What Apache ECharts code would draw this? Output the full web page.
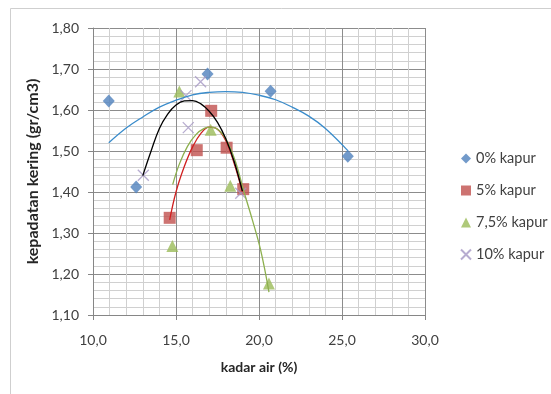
<!DOCTYPE html>
<html>
<head>
<meta charset="utf-8">
<script src="https://cdn.jsdelivr.net/npm/echarts@6/dist/echarts.min.js"></script>
<style>
html,body{margin:0;padding:0;background:#fff;}
#c{width:551px;height:394px;}
</style>
</head>
<body>
<div id="c"></div>
<script>
// Series names
const seriesNames = ['0% kapur', '5% kapur', '7,5% kapur', '10% kapur'];

// Measured points (kadar air %, kepadatan kering)
const x0 = [10.95, 12.6, 16.9, 20.7, 25.35];
const y0 = [1.622, 1.412, 1.688, 1.646, 1.487];
const x5 = [14.62, 16.25, 17.12, 18.05, 19.05];
const y5 = [1.337, 1.502, 1.598, 1.508, 1.407];
const x75 = [14.78, 15.2, 17.09, 18.27, 20.6];
const y75 = [1.268, 1.645, 1.552, 1.415, 1.177];
const x10 = [13.03, 15.6, 15.74, 16.48, 18.9];
const y10 = [1.441, 1.635, 1.557, 1.669, 1.397];

// Trendlines
const t0x = [10.95, 12, 13, 14, 15, 16, 17, 18, 19, 20, 21, 22, 23, 24, 25.35];
const t0y = [1.520, 1.556, 1.583, 1.607, 1.624, 1.637, 1.643, 1.645, 1.643, 1.636, 1.625, 1.607, 1.585, 1.555, 1.501];
const t5x = [14.62, 15.0, 15.5, 16.0, 16.5, 17.0, 17.5, 18.0, 18.5, 19.0];
const t5y = [1.332, 1.400, 1.462, 1.510, 1.543, 1.558, 1.553, 1.525, 1.470, 1.400];
const t75x = [14.8, 15.2, 15.7, 16.2, 16.7, 17.1, 17.6, 18.1, 18.6, 19.1, 19.6, 20.1, 20.6];
const t75y = [1.418, 1.468, 1.512, 1.540, 1.555, 1.558, 1.550, 1.522, 1.472, 1.400, 1.332, 1.258, 1.156];
const t10x = [13.0, 13.5, 14.0, 14.5, 15.0, 15.5, 16.0, 16.5, 17.0, 17.5, 18.0, 18.5, 19.0];
const t10y = [1.440, 1.500, 1.555, 1.590, 1.612, 1.622, 1.623, 1.615, 1.597, 1.570, 1.530, 1.475, 1.402];

// Axis ticks
const xMin = 10, xMax = 30, xStep = 5;
const yMin = 1.1, yMax = 1.8, yStep = 0.1;

const colors = ['#4F81BD', '#C0504D', '#9BBB59', '#A597C4'];
const trendColors = ['#3A8CCB', '#D02020', '#8DB04E', '#000000'];
const crossPath = 'path://M0,0L10,10M10,0L0,10';

const zip = (a, b) => a.map((v, i) => [v, b[i]]);
const font = 'Lato, "Open Sans", sans-serif';

const chart = echarts.init(document.getElementById('c'), null, {renderer: 'canvas'});

const pts = [[x0, y0], [x5, y5], [x75, y75], [x10, y10]];
const trends = [[t0x, t0y], [t5x, t5y], [t75x, t75y], [t10x, t10y]];
const symbols = ['diamond', 'rect', 'triangle', crossPath];
const sizes = [[12, 13], 12, [12, 12], 11];

const series = [];
pts.forEach((p, i) => {
  const isCross = i === 3;
  series.push({
    name: seriesNames[i],
    type: 'scatter',
    data: zip(p[0], p[1]),
    symbol: symbols[i],
    symbolSize: sizes[i],
    z: 2,
    itemStyle: isCross
      ? {color: 'rgba(0,0,0,0)', borderColor: colors[i], borderWidth: 1.3}
      : {color: colors[i]}
  });
});
trends.forEach((t, i) => {
  series.push({
    name: 'trend' + i,
    type: 'line',
    data: zip(t[0], t[1]),
    smooth: 0.4,
    showSymbol: false,
    symbol: 'none',
    z: 3,
    silent: true,
    lineStyle: {color: trendColors[i], width: 1.3}
  });
});

const fmt = d => v => v.toFixed(d).replace('.', ',');

chart.setOption({
  animation: false,
  backgroundColor: '#ffffff',
  graphic: [{
    type: 'rect',
    shape: {x: 10.5, y: 8.5, width: 600, height: 500},
    style: {fill: 'none', stroke: '#cfcfcf', lineWidth: 1},
    silent: true, z: -1
  }],
  grid: {left: 93, right: 126, top: 28, bottom: 79, containLabel: false},
  legend: {
    orient: 'vertical',
    left: 455,
    top: 146,
    itemGap: 17,
    itemWidth: 10,
    itemHeight: 10,
    textStyle: {fontFamily: font, fontSize: 14.5, color: '#404040'},
    data: [
      {name: seriesNames[0], icon: 'diamond'},
      {name: seriesNames[1], icon: 'rect'},
      {name: seriesNames[2], icon: 'triangle'},
      {name: seriesNames[3], icon: crossPath}
    ]
  },
  xAxis: {
    type: 'value',
    min: xMin, max: xMax, interval: xStep,
    name: 'kadar air (%)',
    nameLocation: 'middle',
    nameGap: 45,
    nameTextStyle: {fontFamily: font, fontSize: 14, fontWeight: 'bold', color: '#262626'},
    axisLine: {show: true, onZero: false, lineStyle: {color: '#868686'}},
    axisTick: {show: true, length: 5, lineStyle: {color: '#868686'}},
    axisLabel: {fontFamily: font, fontSize: 14, color: '#404040', margin: 18, formatter: fmt(1)},
    splitLine: {show: true, lineStyle: {color: '#8c8c8c', width: 1}},
    minorTick: {show: false, splitNumber: 5},
    minorSplitLine: {show: true, lineStyle: {color: '#d0d0d0', width: 1}}
  },
  yAxis: {
    type: 'value',
    min: yMin, max: yMax, interval: yStep,
    name: 'kepadatan kering (gr/cm3)',
    nameLocation: 'middle',
    nameGap: 46,
    nameRotate: 90,
    nameTextStyle: {fontFamily: font, fontSize: 16, fontWeight: 'bold', color: '#262626'},
    axisLine: {show: true, onZero: false, lineStyle: {color: '#868686'}},
    axisTick: {show: true, length: 5, lineStyle: {color: '#868686'}},
    axisLabel: {fontFamily: font, fontSize: 14, color: '#404040', margin: 14, formatter: fmt(2)},
    splitLine: {show: true, lineStyle: {color: '#8c8c8c', width: 1}},
    minorTick: {show: false, splitNumber: 5},
    minorSplitLine: {show: true, lineStyle: {color: '#d0d0d0', width: 1}}
  },
  series: series
});
</script>
</body>
</html>
